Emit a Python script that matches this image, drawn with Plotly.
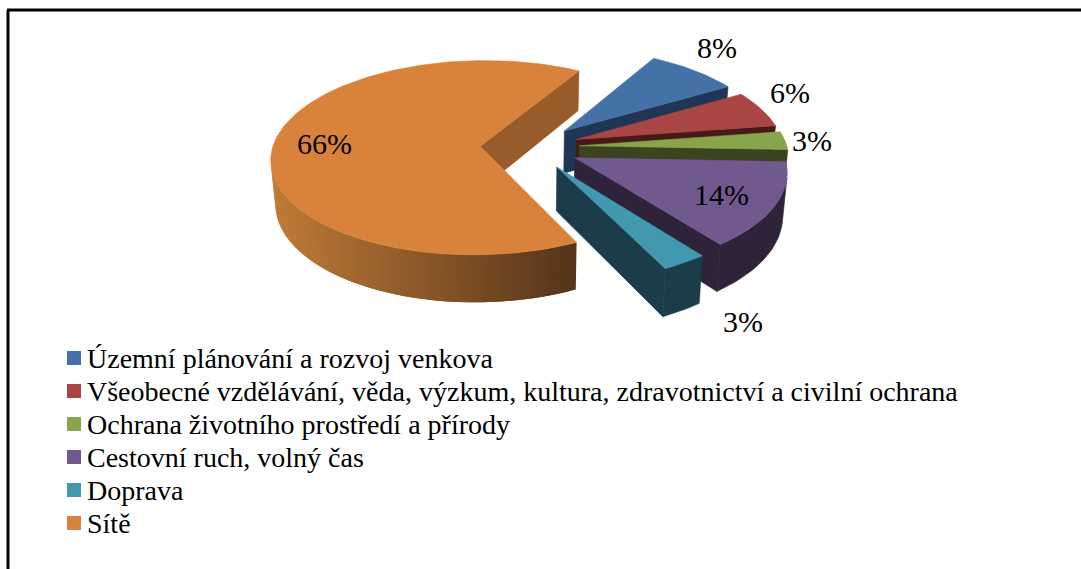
import math
import plotly.graph_objects as go

categories = [
    "Územní plánování a rozvoj venkova",
    "Všeobecné vzdělávání, věda, výzkum, kultura, zdravotnictví a civilní ochrana",
    "Ochrana životního prostředí a přírody",
    "Cestovní ruch, volný čas",
    "Doprava",
    "Sítě",
]
# the labels show these rounded
values = [8.2, 6.1, 3.0, 14.0, 3.1, 65.6]
colors = ["#4472a6", "#a94643", "#89a54c", "#71588f", "#4198af", "#d9823b"]
wall_colors = ["#1f3655", "#471a18", "#3a4420", "#2e2339", "#1b3d49", "#985c2a"]
label_pos = [(717, 47), (790, 92), (812, 140), (721, 194), (743, 321), (324, 143)]

FONT = "Liberation Serif"
START = 30
PULL = 0.24

# perspective of the pie, top face and bottom face
K = 0.118
X0, Y0, A, B = 530, 147, 207.5, 96
Y0B, AB, BB = 190, 203.8, 100


def top_pt(u, v):
    w = 1 + K * v
    return X0 + A * u / w, Y0 - B * v / w


def bot_pt(u, v):
    w = 1 + K * v
    return X0 + AB * u / w, Y0B - BB * v / w


def area(pts):
    s = 0
    for i in range(len(pts)):
        x1, y1 = pts[i]
        x2, y2 = pts[(i + 1) % len(pts)]
        s += x1 * y2 - x2 * y1
    return s / 2


def poly(pts, color, lw=0.6):
    xs = [p[0] for p in pts] + [pts[0][0]]
    ys = [p[1] for p in pts] + [pts[0][1]]
    return go.Scatter(x=xs, y=ys, mode="lines", fill="toself", fillcolor=color,
                      line=dict(color=color, width=lw), hoverinfo="skip", showlegend=False)


def lerp_color(c1, c2, t):
    return "rgb(%d,%d,%d)" % tuple(c1[i] + (c2[i] - c1[i]) * t for i in range(3))


def wall(p, q):
    return [top_pt(*p), top_pt(*q), bot_pt(*q), bot_pt(*p)]


traces = []
angles = []
a = START
for v in values:
    angles.append((a, a + v * 3.6))
    a += v * 3.6

# back to front: orange first, then the exploded group
for i in [5, 0, 1, 2, 3, 4]:
    t1, t2 = angles[i]
    mid = math.radians((t1 + t2) / 2)
    ax, ay = PULL * math.sin(mid), PULL * math.cos(mid)
    n = max(int((t2 - t1) / 1.5), 2)
    rim = []
    for j in range(n + 1):
        t = math.radians(t1 + (t2 - t1) * j / n)
        rim.append((ax + math.sin(t), ay + math.cos(t)))

    # radial walls, only those facing the viewer
    for p, q in [((ax, ay), rim[0]), (rim[-1], (ax, ay))]:
        pts = wall(p, q)
        if area(pts) < 0:
            traces.append(poly(pts, wall_colors[i]))

    # outer wall: visible part of the rim
    vis = [j for j in range(n) if area(wall(rim[j], rim[j + 1])) < 0]
    if i == 5:
        # orange gets a gradient, bands overlap the next one to hide seams
        for j in vis:
            pts = wall(rim[j], rim[min(j + 2, n)])
            tt = min(max((top_pt(*rim[j])[0] - 271) / (574 - 271), 0), 1)
            traces.append(poly(pts, lerp_color((192, 124, 56), (87, 53, 26), tt), lw=0))
    elif vis:
        seg = rim[vis[0]:vis[-1] + 2]
        pts = [top_pt(*r) for r in seg] + [bot_pt(*r) for r in reversed(seg)]
        traces.append(poly(pts, wall_colors[i]))

    top = [top_pt(ax, ay)] + [top_pt(*r) for r in rim]
    traces.append(poly(top, colors[i]))

# legend keys
leg_y = [358 + 33 * i for i in range(len(categories))]
traces.append(go.Scatter(x=[74] * len(categories), y=leg_y, mode="markers",
                         marker=dict(symbol="square", size=14, color=colors),
                         hoverinfo="skip", showlegend=False))

fig = go.Figure(traces)

annotations = []
for v, (x, y) in zip(values, label_pos):
    annotations.append(dict(x=x, y=y, text=f"{round(v)}%", showarrow=False,
                            font=dict(family=FONT, size=30, color="#000000")))
for name, y in zip(categories, leg_y):
    annotations.append(dict(x=85, y=y, text=name, showarrow=False, xanchor="left",
                            font=dict(family=FONT, size=28, color="#000000")))

fig.update_layout(
    width=1081, height=569,
    margin=dict(l=0, r=0, t=0, b=0),
    paper_bgcolor="white", plot_bgcolor="white",
    showlegend=False,
    annotations=annotations,
    xaxis=dict(range=[0, 1081], visible=False, fixedrange=True),
    yaxis=dict(range=[569, 0], visible=False, fixedrange=True),
    shapes=[
        dict(type="line", x0=7, x1=1081, y0=10, y1=10, line=dict(color="black", width=3)),
        dict(type="line", x0=8, x1=8, y0=10, y1=569, line=dict(color="black", width=3)),
    ],
)

fig.write_html("out.html", config=dict(displayModeBar=False),
               post_script="document.body.style.margin='0';")
